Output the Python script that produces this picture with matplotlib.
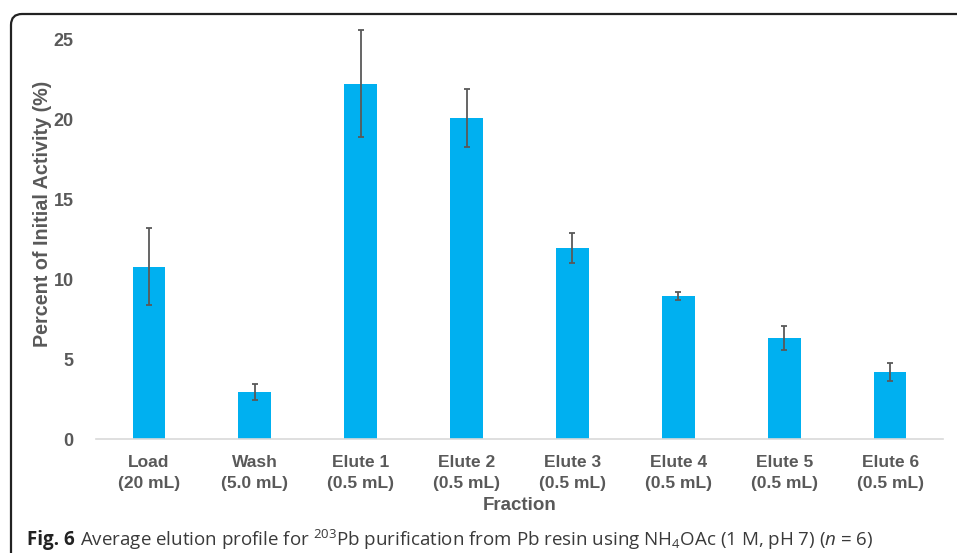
import matplotlib
matplotlib.use("Agg")
import matplotlib.pyplot as plt
from matplotlib.patches import FancyBboxPatch
from matplotlib.transforms import IdentityTransform
import numpy as np

# elution fractions, mean % of initial activity and std dev (n = 6)
fracciones = ["Load\n(20 mL)", "Wash\n(5.0 mL)", "Elute 1\n(0.5 mL)", "Elute 2\n(0.5 mL)",
              "Elute 3\n(0.5 mL)", "Elute 4\n(0.5 mL)", "Elute 5\n(0.5 mL)", "Elute 6\n(0.5 mL)"]
actividad = [10.8, 2.95, 22.25, 20.1, 11.95, 8.95, 6.3, 4.2]
desviacion = [2.4, 0.52, 3.35, 1.8, 0.95, 0.25, 0.75, 0.55]
ticks_y = [0, 5, 10, 15, 20, 25]

plt.rcParams['mathtext.fontset'] = 'custom'
plt.rcParams['mathtext.rm'] = 'Open Sans'
plt.rcParams['mathtext.it'] = 'Open Sans:italic'

gris = '#595959'
fig = plt.figure(figsize=(9.57, 5.53), dpi=100)
ax = fig.add_axes([96 / 957, 114 / 553, 847 / 957, 399 / 553])

x = np.arange(len(fracciones))
ax.bar(x, actividad, width=0.31, color='#00B0F0', zorder=2)
eb = ax.errorbar(x, actividad, yerr=desviacion, fmt='none', ecolor=gris,
                 elinewidth=1.3, capsize=2.2, capthick=1.3, zorder=3)
for artista in list(eb.lines[1]) + list(eb.lines[2]):
    artista.set_clip_on(False)

ax.set_xlim(-0.5, len(fracciones) - 0.5)
ax.set_ylim(0, 25)
ax.set_yticks(ticks_y)
ax.set_xticks(x)
ax.set_xticklabels(fracciones, fontfamily='Liberation Sans', fontweight='bold',
                   fontsize=12.5, color=gris, linespacing=1.5)
ax.set_yticklabels([str(t) for t in ticks_y], fontfamily='Liberation Sans',
                   fontweight='bold', fontsize=13, color=gris)
ax.tick_params(axis='both', length=0)
ax.tick_params(axis='y', pad=16)
ax.tick_params(axis='x', pad=11.5)
for lado in ['top', 'right', 'left']:
    ax.spines[lado].set_visible(False)
ax.spines['bottom'].set_color('#d9d9d9')
ax.spines['bottom'].set_linewidth(1.2)

ax.set_xlabel('Fraction', fontfamily='Liberation Sans', fontweight='bold',
              fontsize=13.5, color=gris)
ax.xaxis.set_label_coords(0.5, -(505 - 439) / 399)
ax.set_ylabel('Percent of Initial Activity (%)', fontfamily='Liberation Sans',
              fontweight='bold', fontsize=14.2, color=gris)
ax.yaxis.set_label_coords((43 - 96) / 847, (439 - 214) / 399)
ax.xaxis.label.set_va('center')
ax.yaxis.label.set_va('center')

# frame around figure + caption
marco = FancyBboxPatch((11, -40), 1000, 579, boxstyle='round,pad=0,rounding_size=11',
                       transform=IdentityTransform(), facecolor='none',
                       edgecolor='#222222', linewidth=1.6)
fig.patches.append(marco)

t1 = fig.text(27 / 957, 1 - 540 / 553, 'Fig. 6', fontfamily='Open Sans', fontweight='bold',
              fontsize=13.5, color='#222222', va='center')
fig.canvas.draw()
bb = t1.get_window_extent()
fig.text((bb.x1 + 5) / 957, 1 - 540 / 553,
         r'Average elution profile for $^{203}$Pb purification from Pb resin using '
         r'NH$_4$OAc (1 M, pH 7) ($n$ = 6)',
         fontfamily='Open Sans', fontsize=13.5, color='#3a3a3a', va='center')

fig.savefig('out.png', dpi=100)
